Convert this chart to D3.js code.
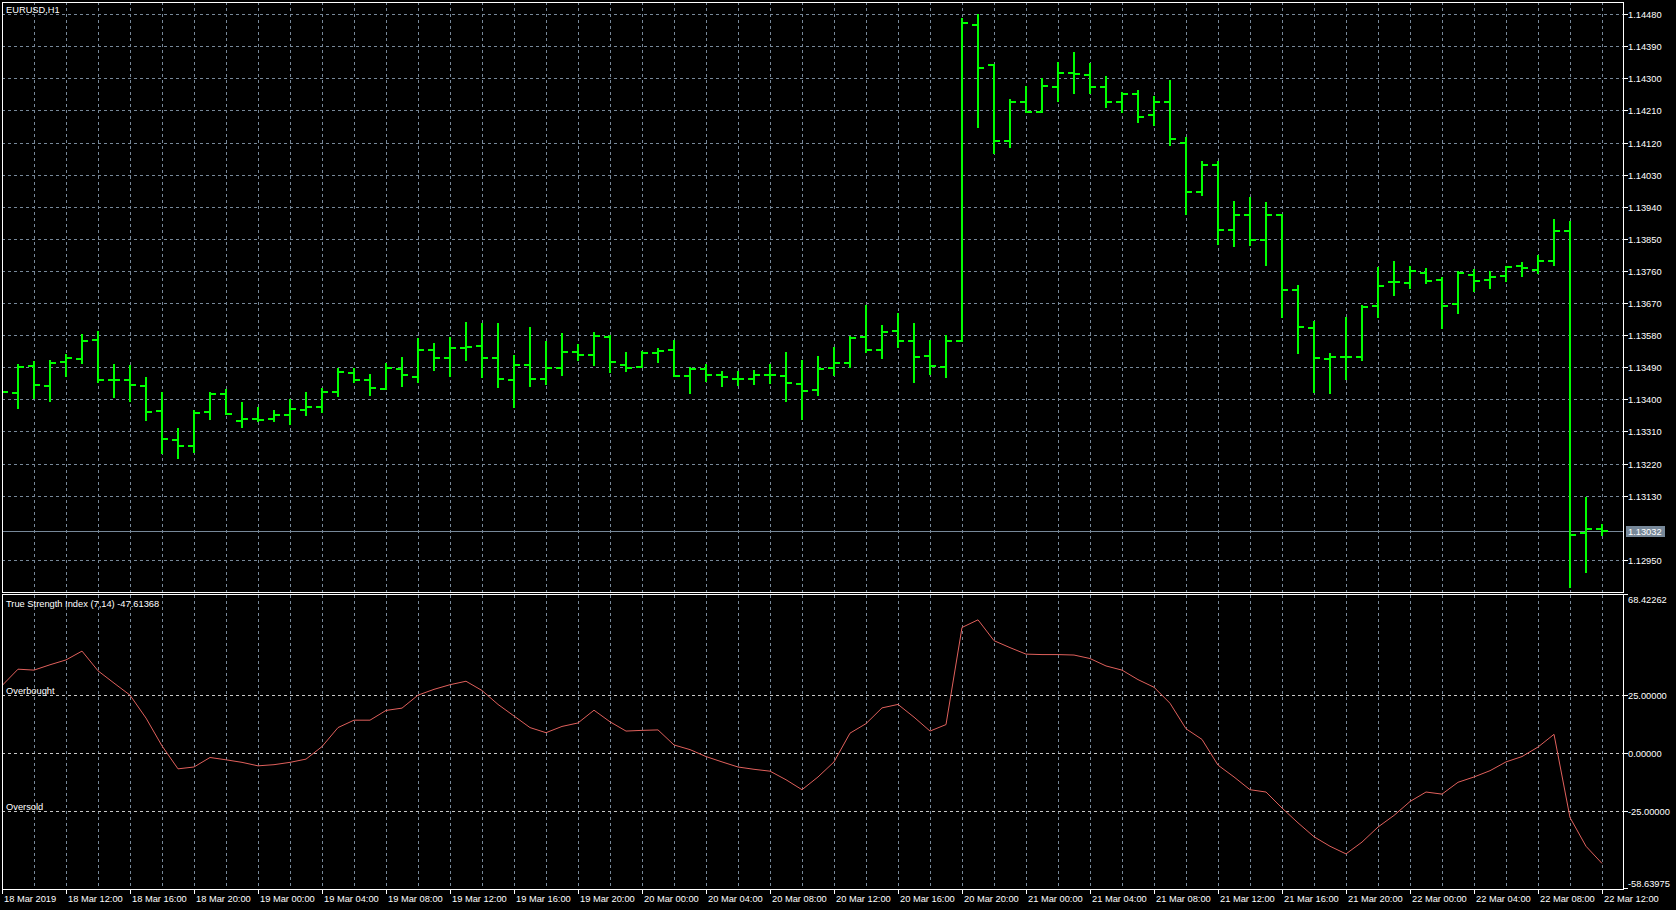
<!DOCTYPE html>
<html><head><meta charset="utf-8">
<script src="https://cdn.jsdelivr.net/npm/d3@7"></script>
<style>
html,body{margin:0;padding:0;background:#000;overflow:hidden}
svg{display:block}
text{font-family:"Liberation Sans",Arial,sans-serif;font-size:9.3px;fill:#fff}
</style></head><body>
<svg id="c" width="1676" height="910"></svg>
<script>
// ---------------- DATA ----------------
const symbolTitle = "EURUSD,H1";
const indicatorTitle = "True Strength Index (7,14) -47.61368";
const firstBarTime = "2019-03-18T08:00:00Z";
const lastBarTime  = "2019-03-22T12:00:00Z";

const openPrices = [
1.13430,1.13419,1.13494,1.13437,1.13505,1.13513,1.13567,1.13455,1.13455,1.13437,
1.13368,1.13287,1.13269,1.13365,1.13416,1.13340,1.13345,1.13345,1.13357,1.13371,
1.13379,1.13421,1.13475,1.13455,1.13430,1.13486,1.13463,1.13538,1.13516,1.13544,
1.13550,1.13516,1.13453,1.13496,1.13457,1.13488,1.13533,1.13524,1.13575,1.13496,
1.13491,1.13530,1.13538,1.13465,1.13485,1.13468,1.13457,1.13457,1.13468,1.13465,
1.13443,1.13426,1.13488,1.13502,1.13575,1.13538,1.13592,1.13564,1.13521,1.13491,
1.13564,1.14450,1.14336,1.14123,1.14235,1.14207,1.14276,1.14314,1.14308,1.14275,
1.14235,1.14255,1.14196,1.14233,1.14118,1.13980,1.14056,1.13876,1.13916,1.13848,
1.13916,1.13706,1.13599,1.13512,1.13520,1.13520,1.13661,1.13728,1.13725,1.13753,
1.13734,1.13666,1.13750,1.13734,1.13745,1.13773,1.13762,1.13789,1.13871,1.13024,
1.13038];
const highPrices = [
1.13445,1.13496,1.13504,1.13507,1.13525,1.13580,1.13588,1.13496,1.13494,1.13459,
1.13419,1.13318,1.13368,1.13417,1.13426,1.13389,1.13375,1.13367,1.13398,1.13417,
1.13428,1.13484,1.13486,1.13468,1.13500,1.13516,1.13568,1.13554,1.13573,1.13613,
1.13610,1.13610,1.13523,1.13601,1.13562,1.13584,1.13552,1.13587,1.13579,1.13531,
1.13534,1.13541,1.13565,1.13488,1.13497,1.13478,1.13478,1.13480,1.13497,1.13531,
1.13508,1.13519,1.13545,1.13575,1.13661,1.13607,1.13638,1.13610,1.13563,1.13577,
1.14466,1.14478,1.14338,1.14239,1.14276,1.14299,1.14342,1.14372,1.14340,1.14304,
1.14259,1.14265,1.14248,1.14293,1.14133,1.14066,1.14066,1.13952,1.13965,1.13951,
1.13918,1.13719,1.13618,1.13527,1.13628,1.13663,1.13768,1.13786,1.13771,1.13765,
1.13740,1.13757,1.13763,1.13757,1.13771,1.13782,1.13802,1.13903,1.13897,1.13123,
1.13048];
const lowPrices = [
1.13410,1.13377,1.13404,1.13396,1.13466,1.13503,1.13450,1.13407,1.13396,1.13341,
1.13250,1.13237,1.13253,1.13345,1.13359,1.13323,1.13339,1.13340,1.13330,1.13357,
1.13365,1.13410,1.13450,1.13412,1.13430,1.13438,1.13448,1.13483,1.13465,1.13511,
1.13463,1.13434,1.13378,1.13437,1.13443,1.13468,1.13511,1.13496,1.13477,1.13479,
1.13491,1.13505,1.13465,1.13418,1.13451,1.13437,1.13440,1.13443,1.13446,1.13395,
1.13344,1.13412,1.13468,1.13490,1.13533,1.13517,1.13547,1.13449,1.13471,1.13463,
1.13564,1.14163,1.14090,1.14107,1.14206,1.14206,1.14237,1.14258,1.14258,1.14219,
1.14205,1.14177,1.14170,1.14112,1.13920,1.13972,1.13836,1.13830,1.13832,1.13776,
1.13632,1.13529,1.13420,1.13417,1.13456,1.13509,1.13630,1.13694,1.13712,1.13725,
1.13601,1.13641,1.13703,1.13712,1.13731,1.13745,1.13753,1.13778,1.12873,1.12915,
1.13019];
const closePrices = [
1.13422,1.13492,1.13440,1.13503,1.13516,1.13565,1.13455,1.13455,1.13440,1.13364,
1.13290,1.13269,1.13362,1.13416,1.13359,1.13345,1.13343,1.13357,1.13374,1.13379,
1.13421,1.13478,1.13455,1.13433,1.13489,1.13469,1.13538,1.13516,1.13544,1.13547,
1.13516,1.13457,1.13496,1.13457,1.13488,1.13533,1.13524,1.13578,1.13505,1.13488,
1.13530,1.13536,1.13465,1.13485,1.13468,1.13463,1.13457,1.13468,1.13468,1.13446,
1.13423,1.13485,1.13502,1.13572,1.13538,1.13588,1.13564,1.13519,1.13493,1.13564,
1.14456,1.14330,1.14123,1.14235,1.14207,1.14279,1.14314,1.14311,1.14275,1.14235,
1.14255,1.14193,1.14233,1.14129,1.13980,1.14056,1.13876,1.13916,1.13848,1.13916,
1.13706,1.13602,1.13515,1.13520,1.13520,1.13658,1.13717,1.13728,1.13759,1.13731,
1.13663,1.13753,1.13731,1.13742,1.13770,1.13767,1.13789,1.13871,1.13021,1.13038,
1.13032];
const tsiValues = [
29.1,36.2,35.8,38.1,40.2,44.0,35.5,30.2,25.0,15.1,
3.1,-6.8,-6.0,-1.9,-2.9,-4.0,-5.5,-5.0,-4.0,-2.6,
2.8,11.0,14.2,14.2,18.4,19.4,25.0,27.5,29.5,31.0,
27.0,21.0,16.0,11.0,8.8,11.5,13.0,18.5,13.5,9.5,
9.8,10.0,3.5,1.5,-1.5,-3.8,-6.0,-7.0,-7.8,-11.5,
-15.8,-10.3,-3.8,8.6,12.7,19.5,21.0,15.5,9.5,12.3,
54.2,57.5,48.5,45.5,42.7,42.5,42.5,42.3,40.8,37.6,
35.8,31.7,28.4,21.5,10.5,5.9,-5.2,-10.3,-15.8,-16.8,
-23.7,-30.1,-36.1,-40.2,-43.5,-38.4,-31.9,-26.9,-20.9,-16.8,
-17.7,-12.6,-10.3,-7.6,-3.8,-1.5,2.6,8.1,-27.8,-40.2,
-47.61368];

const currentPrice = 1.13032;
const priceTicks = [1.14480,1.14390,1.14300,1.14210,1.14120,1.14030,1.13940,1.13850,1.13760,
                    1.13670,1.13580,1.13490,1.13400,1.13310,1.13220,1.13130,1.12950];
const priceRange = [1.12860, 1.14514];
const tsiRange = [-58.63975, 68.42262];
const tsiLevels = [25, 0, -25];
const tsiLevelTicks = [25, 0, -25];
const overboughtLabel = "Overbought";
const oversoldLabel = "Oversold";
const timeTickTimes = [
"2019-03-18T08:00:00Z","2019-03-18T12:00:00Z","2019-03-18T16:00:00Z","2019-03-18T20:00:00Z",
"2019-03-19T00:00:00Z","2019-03-19T04:00:00Z","2019-03-19T08:00:00Z","2019-03-19T12:00:00Z",
"2019-03-19T16:00:00Z","2019-03-19T20:00:00Z","2019-03-20T00:00:00Z","2019-03-20T04:00:00Z",
"2019-03-20T08:00:00Z","2019-03-20T12:00:00Z","2019-03-20T16:00:00Z","2019-03-20T20:00:00Z",
"2019-03-21T00:00:00Z","2019-03-21T04:00:00Z","2019-03-21T08:00:00Z","2019-03-21T12:00:00Z",
"2019-03-21T16:00:00Z","2019-03-21T20:00:00Z","2019-03-22T00:00:00Z","2019-03-22T04:00:00Z",
"2019-03-22T08:00:00Z","2019-03-22T12:00:00Z"];
const timeTickLabels = [
"18 Mar 2019","18 Mar 12:00","18 Mar 16:00","18 Mar 20:00","19 Mar 00:00","19 Mar 04:00",
"19 Mar 08:00","19 Mar 12:00","19 Mar 16:00","19 Mar 20:00","20 Mar 00:00","20 Mar 04:00",
"20 Mar 08:00","20 Mar 12:00","20 Mar 16:00","20 Mar 20:00","21 Mar 00:00","21 Mar 04:00",
"21 Mar 08:00","21 Mar 12:00","21 Mar 16:00","21 Mar 20:00","22 Mar 00:00","22 Mar 04:00",
"22 Mar 08:00","22 Mar 12:00"];

// ---------------- LAYOUT ----------------
const L = 2, R = 1623;
const mainTop = 2, mainBottom = 592;
const indTop = 594.5, indBottom = 889;
const gridColor = "#778899";
const barColor = "#00ff00";
const tsiColor = "#e0605c";

const svg = d3.select("#c");
svg.append("rect").attr("width",1676).attr("height",910).attr("fill","#000");

const barTimes = d3.utcHour.range(new Date(firstBarTime), d3.utcHour.offset(new Date(lastBarTime),1));
const x = d3.scaleUtc().domain([new Date(firstBarTime), new Date(lastBarTime)]).range([2, 1602]);
const y = d3.scaleLinear().domain(priceRange).range([mainBottom, mainTop]);
const yT = d3.scaleLinear().domain(tsiRange).range([indBottom, indTop]);
const px = v => Math.round(v) + 0.5;

const defs = svg.append("defs");
defs.append("clipPath").attr("id","clipMain").append("rect")
  .attr("x",L+1).attr("y",mainTop+1).attr("width",R-L-1).attr("height",mainBottom-mainTop-1);
defs.append("clipPath").attr("id","clipInd").append("rect")
  .attr("x",L+1).attr("y",indTop+0.5).attr("width",R-L-1).attr("height",indBottom-indTop-0.5);

// vertical grid every 2 bars
const gridTimes = d3.utcHour.every(2).range(d3.utcHour.offset(new Date(firstBarTime),2), d3.utcHour.offset(new Date(lastBarTime),1));
const g = svg.append("g").attr("shape-rendering","crispEdges");
gridTimes.forEach(t => {
  const xx = px(x(t));
  g.append("line").attr("x1",xx).attr("x2",xx).attr("y1",mainTop).attr("y2",mainBottom)
    .attr("stroke",gridColor).attr("stroke-dasharray","3,3");
  g.append("line").attr("x1",xx).attr("x2",xx).attr("y1",indTop).attr("y2",indBottom)
    .attr("stroke",gridColor).attr("stroke-dasharray","3,3");
});
// horizontal price grid
priceTicks.forEach(p => {
  const yy = px(y(p));
  g.append("line").attr("x1",L).attr("x2",R).attr("y1",yy).attr("y2",yy)
    .attr("stroke",gridColor).attr("stroke-dasharray","3,3");
});
// indicator levels
tsiLevels.forEach(v => {
  const yy = px(yT(v));
  g.append("line").attr("x1",L).attr("x2",R).attr("y1",yy).attr("y2",yy)
    .attr("stroke","#c8c8c8").attr("stroke-dasharray","3,3");
});

// current price line
const cy = px(y(currentPrice));
g.append("line").attr("x1",L).attr("x2",R).attr("y1",cy).attr("y2",cy).attr("stroke",gridColor);

// bars
const bars = svg.append("g").attr("clip-path","url(#clipMain)").attr("shape-rendering","crispEdges")
  .attr("stroke",barColor).attr("stroke-width",2);
barTimes.forEach((t,i) => {
  const xx = Math.round(x(t));
  bars.append("line").attr("x1",xx).attr("x2",xx)
    .attr("y1",Math.round(y(highPrices[i]))-1).attr("y2",Math.round(y(lowPrices[i]))+1);
  const yo = Math.round(y(openPrices[i])), yc = Math.round(y(closePrices[i]));
  bars.append("line").attr("x1",xx-6).attr("x2",xx).attr("y1",yo).attr("y2",yo);
  bars.append("line").attr("x1",xx).attr("x2",xx+6).attr("y1",yc).attr("y2",yc);
});

// TSI line
const line = d3.line().x((d,i)=>x(barTimes[i])).y(d=>yT(d));
svg.append("path").attr("clip-path","url(#clipInd)").datum(tsiValues).attr("d",line)
  .attr("fill","none").attr("stroke",tsiColor).attr("stroke-width",1);

// frames
const f = svg.append("g").attr("shape-rendering","crispEdges").attr("fill","none").attr("stroke","#fff");
f.append("rect").attr("x",L+0.5).attr("y",mainTop+0.5).attr("width",R-L).attr("height",mainBottom-mainTop);
f.append("rect").attr("x",L+0.5).attr("y",indTop).attr("width",R-L).attr("height",indBottom-indTop+0.5);

// right price axis
const ax = svg.append("g");
priceTicks.forEach(p => {
  const yy = px(y(p));
  ax.append("line").attr("x1",R).attr("x2",R+5).attr("y1",yy).attr("y2",yy).attr("stroke","#fff").attr("shape-rendering","crispEdges");
  ax.append("text").attr("x",R+5).attr("y",yy+3.5).text(p.toFixed(5));
});
// current price label
ax.append("rect").attr("x",R+3).attr("y",cy-5.5).attr("width",39).attr("height",11).attr("fill",gridColor);
ax.append("text").attr("x",R+5).attr("y",cy+3.5).attr("fill","#fff").text(currentPrice.toFixed(5));

// indicator axis
tsiLevelTicks.forEach(v => {
  const yy = px(yT(v));
  ax.append("line").attr("x1",R).attr("x2",R+5).attr("y1",yy).attr("y2",yy).attr("stroke","#fff").attr("shape-rendering","crispEdges");
  ax.append("text").attr("x",R+5).attr("y",yy+3.5).text(v.toFixed(5));
});
ax.append("line").attr("x1",R).attr("x2",R+5).attr("y1",indTop).attr("y2",indTop).attr("stroke","#fff");
ax.append("text").attr("x",R+5).attr("y",yT(tsiRange[1])+8.5).text(tsiRange[1].toFixed(5));
ax.append("line").attr("x1",R).attr("x2",R+5).attr("y1",indBottom-0.5).attr("y2",indBottom-0.5).attr("stroke","#fff");
ax.append("text").attr("x",R+5).attr("y",yT(tsiRange[0])-2).text(tsiRange[0].toFixed(5));

// time axis
timeTickTimes.forEach((t,i) => {
  const xx = px(x(new Date(t)));
  ax.append("line").attr("x1",xx).attr("x2",xx).attr("y1",indBottom).attr("y2",indBottom+5)
    .attr("stroke","#fff").attr("shape-rendering","crispEdges");
  ax.append("text").attr("x",xx+1.5).attr("y",indBottom+13).text(timeTickLabels[i]);
});

// titles
svg.append("text").attr("x",6).attr("y",13).text(symbolTitle);
svg.append("text").attr("x",6).attr("y",indTop+12).text(indicatorTitle);
svg.append("text").attr("x",6).attr("y",yT(tsiLevels[0])-1.5).text(overboughtLabel);
svg.append("text").attr("x",6).attr("y",yT(tsiLevels[2])-1.5).text(oversoldLabel);
</script>
</body></html>
